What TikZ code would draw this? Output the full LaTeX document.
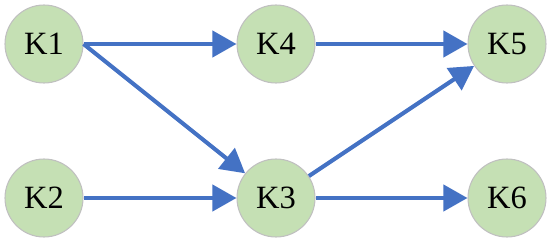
\documentclass[tikz,border=0pt]{standalone}
\usepackage{fontspec}
\setmainfont{Liberation Serif}
\usepackage{xcolor}
\definecolor{knode-fill}{HTML}{C5E0B4}
\definecolor{knode-border}{HTML}{C0C0C0}
\definecolor{link-blue}{HTML}{4472C4}
\usetikzlibrary{arrows.meta}

\begin{document}
\begin{tikzpicture}[
    knode/.style={
      circle,
      draw=knode-border,
      fill=knode-fill,
      line width=0.6pt,
      minimum size=1.56cm,
      inner sep=0pt,
      font=\fontsize{18.5}{20}\selectfont,
      text=black
    },
    link/.style={
      -{Triangle[length=0.48cm, width=0.52cm]},
      line width=2.3pt,
      color=link-blue
    }
  ]
    \useasboundingbox (0,0) rectangle (11,-4.88);

    % ---- Top row ----
    \node[knode] (k1) at (0.88, -0.88)  {K1};
    \node[knode] (k4) at (5.52, -0.88)  {K4};
    \node[knode] (k5) at (10.14, -0.88) {K5};

    % ---- Bottom row ----
    \node[knode] (k2) at (0.88, -3.96)  {K2};
    \node[knode] (k3) at (5.52, -3.96)  {K3};
    \node[knode] (k6) at (10.14, -3.96) {K6};

    % ---- Links ----
    \draw[link] (k1.east) -- (k4.west);
    \draw[link] (k1.east) -- (k3);
    \draw[link] (k4.east) -- (k5.west);
    \draw[link] (k2.east) -- (k3.west);
    \draw[link] (k3) -- (k5);
    \draw[link] (k3.east) -- (k6.west);
  \end{tikzpicture}
\end{document}
